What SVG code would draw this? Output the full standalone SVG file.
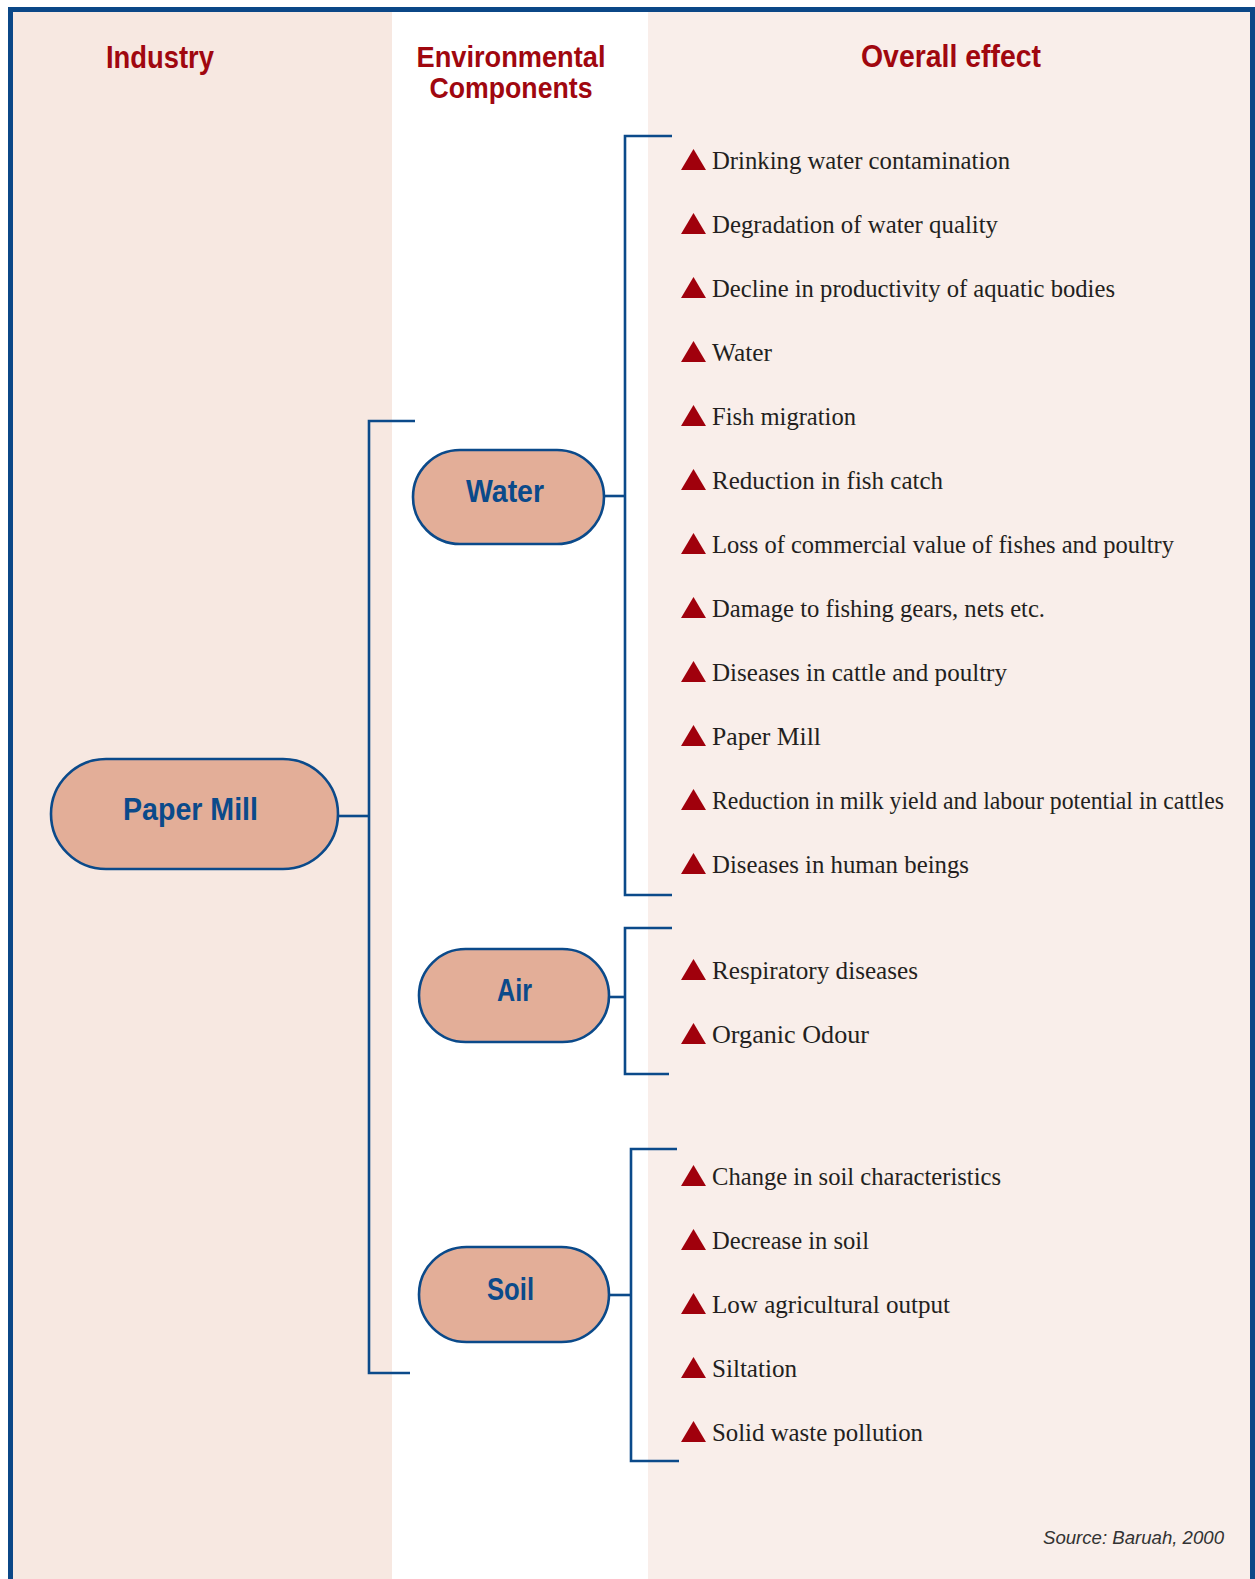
<svg xmlns="http://www.w3.org/2000/svg" xmlns:xlink="http://www.w3.org/1999/xlink" width="1255" height="1579" viewBox="0 0 1255 1579">
<style>
.hdr{font-family:"Liberation Sans",Arial,sans-serif;font-weight:bold;font-size:32px;fill:#a0070f;text-anchor:middle}
.hdr2{font-size:30px}
.node rect{fill:#e3ae98;stroke:#0b4a8a;stroke-width:2.6}
.node text{font-family:"Liberation Sans",Arial,sans-serif;font-weight:bold;font-size:32px;fill:#0b4a8a;text-anchor:middle}
.conn path{fill:none;stroke:#0b4a8a;stroke-width:2.6}
.item{font-family:"Liberation Serif","Times New Roman",serif;font-size:26px;fill:#231f20}
.tri{fill:#a0000c}
.src{font-family:"Liberation Sans",Arial,sans-serif;font-style:italic;font-size:19px;fill:#333}
</style>
<defs>
<polygon id="tri" class="tri" points="0,1 25,1 12.5,-20"/>
</defs>
<rect x="0" y="0" width="1255" height="1579" fill="#ffffff"/>
<rect x="13" y="12" width="379" height="1567" fill="#f7e8e1"/>
<rect x="648" y="12" width="603" height="1567" fill="#f9eeea"/>
<rect x="10.5" y="9.5" width="1242" height="1620" fill="none" stroke="#0b4787" stroke-width="5"/>

<g id="headers">
<text class="hdr" x="160" y="68" textLength="108" lengthAdjust="spacingAndGlyphs">Industry</text>
<text class="hdr hdr2" x="511" y="67" textLength="189" lengthAdjust="spacingAndGlyphs">Environmental</text>
<text class="hdr hdr2" x="511" y="98" textLength="163" lengthAdjust="spacingAndGlyphs">Components</text>
<text class="hdr" x="951" y="67" textLength="180" lengthAdjust="spacingAndGlyphs">Overall effect</text>
</g>

<g id="connectors" class="conn">
<path d="M415,421 H369 V1373 H410"/>
<path d="M338,816 H369"/>
<path d="M672,136 H625 V895 H672"/>
<path d="M604,496 H625"/>
<path d="M672,928 H625 V1074 H669"/>
<path d="M609,997 H625"/>
<path d="M677,1149 H631 V1461 H679"/>
<path d="M609,1295 H631"/>
</g>

<g id="node-paper-mill" class="node">
<rect x="51" y="759" width="287" height="110" rx="55" ry="55"/>
<text x="190.5" y="820" textLength="135" lengthAdjust="spacingAndGlyphs">Paper Mill</text>
</g>
<g id="node-water" class="node">
<rect x="413" y="450" width="191" height="94" rx="47" ry="47"/>
<text x="505" y="502" textLength="78" lengthAdjust="spacingAndGlyphs">Water</text>
</g>
<g id="node-air" class="node">
<rect x="419" y="949" width="190" height="93" rx="46.5" ry="46.5"/>
<text x="514.5" y="1001" textLength="35" lengthAdjust="spacingAndGlyphs">Air</text>
</g>
<g id="node-soil" class="node">
<rect x="419" y="1247" width="190" height="95" rx="47.5" ry="47.5"/>
<text x="510.5" y="1300" textLength="47" lengthAdjust="spacingAndGlyphs">Soil</text>
</g>

<g id="effects-water">
<use xlink:href="#tri" x="681" y="169"/><text class="item" x="712" y="169" textLength="298" lengthAdjust="spacingAndGlyphs">Drinking water contamination</text>
<use xlink:href="#tri" x="681" y="233"/><text class="item" x="712" y="233" textLength="286" lengthAdjust="spacingAndGlyphs">Degradation of water quality</text>
<use xlink:href="#tri" x="681" y="297"/><text class="item" x="712" y="297" textLength="403" lengthAdjust="spacingAndGlyphs">Decline in productivity of aquatic bodies</text>
<use xlink:href="#tri" x="681" y="361"/><text class="item" x="712" y="361" textLength="60" lengthAdjust="spacingAndGlyphs">Water</text>
<use xlink:href="#tri" x="681" y="425"/><text class="item" x="712" y="425" textLength="144" lengthAdjust="spacingAndGlyphs">Fish migration</text>
<use xlink:href="#tri" x="681" y="489"/><text class="item" x="712" y="489" textLength="231" lengthAdjust="spacingAndGlyphs">Reduction in fish catch</text>
<use xlink:href="#tri" x="681" y="553"/><text class="item" x="712" y="553" textLength="462" lengthAdjust="spacingAndGlyphs">Loss of commercial value of fishes and poultry</text>
<use xlink:href="#tri" x="681" y="617"/><text class="item" x="712" y="617" textLength="333" lengthAdjust="spacingAndGlyphs">Damage to fishing gears, nets etc.</text>
<use xlink:href="#tri" x="681" y="681"/><text class="item" x="712" y="681" textLength="295" lengthAdjust="spacingAndGlyphs">Diseases in cattle and poultry</text>
<use xlink:href="#tri" x="681" y="745"/><text class="item" x="712" y="745" textLength="109" lengthAdjust="spacingAndGlyphs">Paper Mill</text>
<use xlink:href="#tri" x="681" y="809"/><text class="item" x="712" y="809" font-size="24" textLength="512" lengthAdjust="spacingAndGlyphs">Reduction in milk yield and labour potential in cattles</text>
<use xlink:href="#tri" x="681" y="873"/><text class="item" x="712" y="873" textLength="257" lengthAdjust="spacingAndGlyphs">Diseases in human beings</text>
</g>

<g id="effects-air">
<use xlink:href="#tri" x="681" y="979"/><text class="item" x="712" y="979" textLength="206" lengthAdjust="spacingAndGlyphs">Respiratory diseases</text>
<use xlink:href="#tri" x="681" y="1043"/><text class="item" x="712" y="1043" textLength="157" lengthAdjust="spacingAndGlyphs">Organic Odour</text>
</g>

<g id="effects-soil">
<use xlink:href="#tri" x="681" y="1185"/><text class="item" x="712" y="1185" textLength="289" lengthAdjust="spacingAndGlyphs">Change in soil characteristics</text>
<use xlink:href="#tri" x="681" y="1249"/><text class="item" x="712" y="1249" textLength="157" lengthAdjust="spacingAndGlyphs">Decrease in soil</text>
<use xlink:href="#tri" x="681" y="1313"/><text class="item" x="712" y="1313" textLength="238" lengthAdjust="spacingAndGlyphs">Low agricultural output</text>
<use xlink:href="#tri" x="681" y="1377"/><text class="item" x="712" y="1377" textLength="85" lengthAdjust="spacingAndGlyphs">Siltation</text>
<use xlink:href="#tri" x="681" y="1441"/><text class="item" x="712" y="1441" textLength="211" lengthAdjust="spacingAndGlyphs">Solid waste pollution</text>
</g>

<text class="src" x="1043" y="1544" textLength="181" lengthAdjust="spacingAndGlyphs">Source: Baruah, 2000</text>
</svg>
